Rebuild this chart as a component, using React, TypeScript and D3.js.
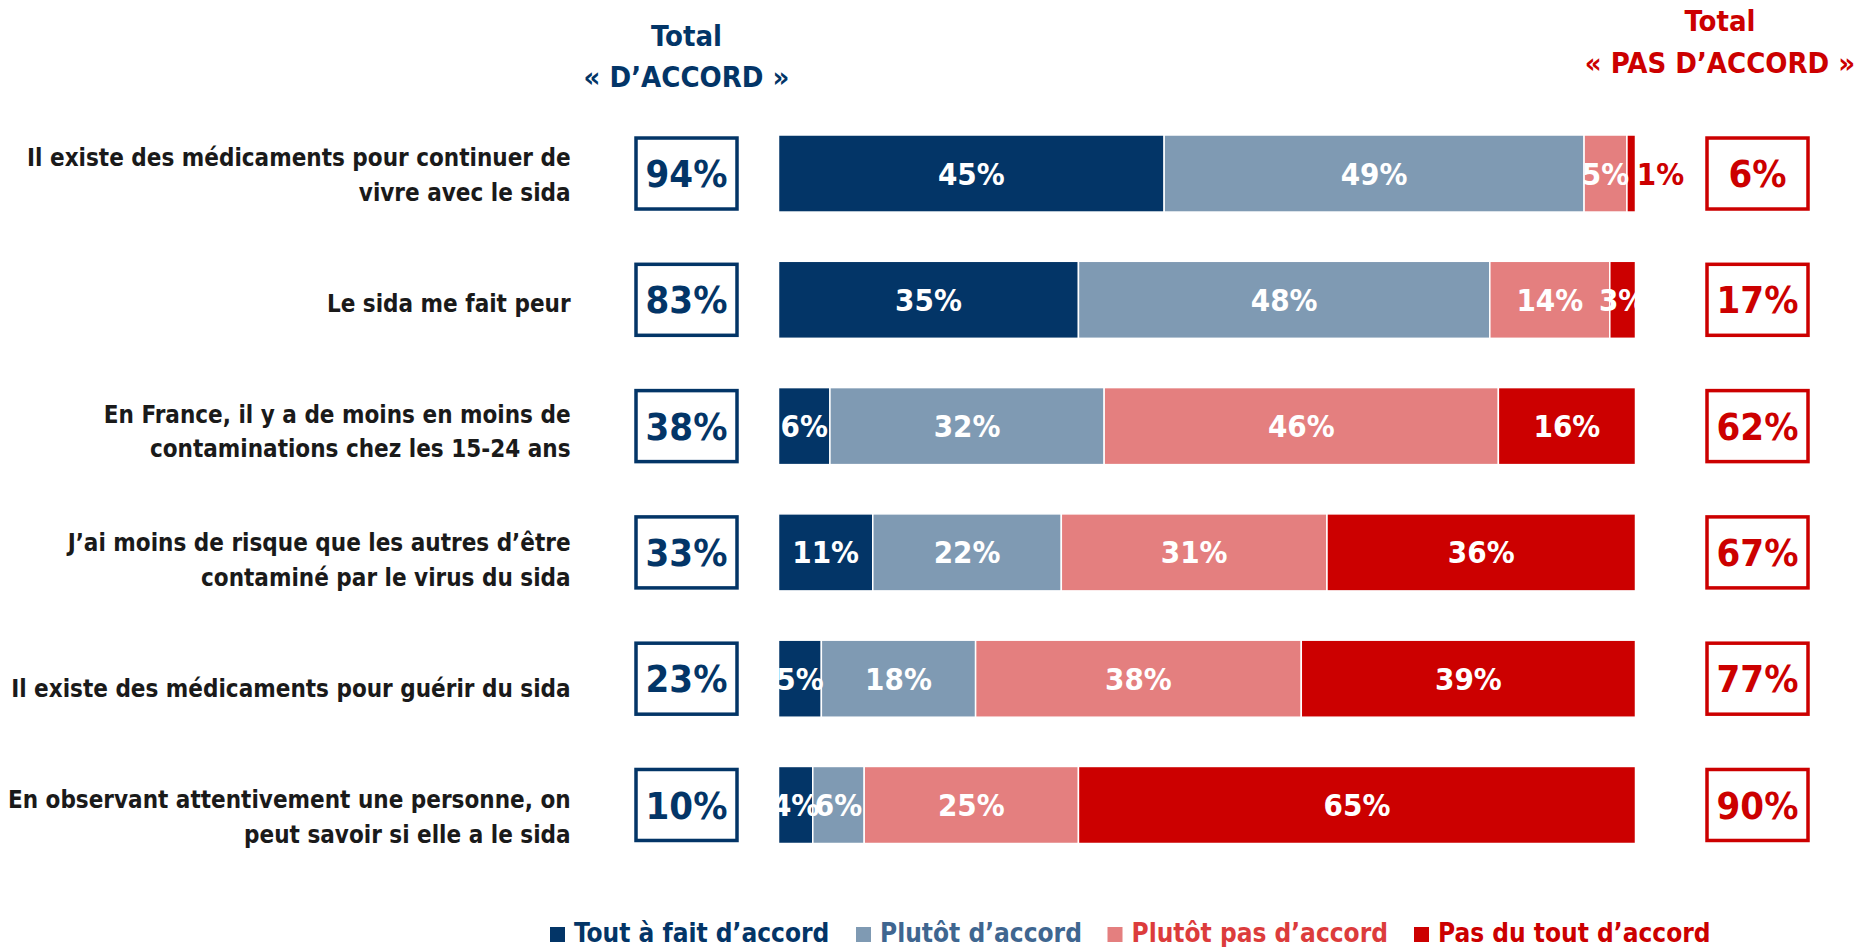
import React from 'react';
import * as d3 from 'd3';

const categories: string[][] = [
  ['Il existe des médicaments pour continuer de', 'vivre avec le sida'],
  ['Le sida me fait peur'],
  ['En France, il y a de moins en moins de', 'contaminations chez les 15-24 ans'],
  ['J’ai moins de risque que les autres d’être', 'contaminé par le virus du sida'],
  ['Il existe des médicaments pour guérir du sida'],
  ['En observant attentivement une personne, on', 'peut savoir si elle a le sida'],
];
const seriesNames = ['Tout à fait d’accord', 'Plutôt d’accord', 'Plutôt pas d’accord', 'Pas du tout d’accord'];
const toutAFait = [45, 35, 6, 11, 5, 4];
const plutot = [49, 48, 32, 22, 18, 6];
const plutotPas = [5, 14, 46, 31, 38, 25];
const pasDuTout = [1, 3, 16, 36, 39, 65];
const totalAccord = [94, 83, 38, 33, 23, 10];
const totalPasAccord = [6, 17, 62, 67, 77, 90];

const FONT = '"Liberation Sans Narrow", "DejaVu Sans Condensed", "Open Sans", sans-serif';
const NAVY = '#033567';
const STEEL = '#7F9AB3';
const PINK = '#E47F7F';
const RED = '#CC0000';
const fills = [NAVY, STEEL, PINK, RED];
const legendText = [NAVY, '#3F6690', '#DC3C3C', RED];

const W = 1858;
const H = 947;

export default function App() {
  const series = [toutAFait, plutot, plutotPas, pasDuTout];
  const rows = categories.map((_, i) => {
    let acc = 0;
    return series.map((s, k) => {
      const seg = { k, x0: acc, x1: acc + s[i], v: s[i] };
      acc += s[i];
      return seg;
    });
  });

  const x = d3.scaleLinear().domain([0, 100]).range([778.5, 1635.5]);
  const y = d3.scaleBand<number>().domain(d3.range(6)).range([135, 843.5]).paddingInner(0.39).paddingOuter(0);
  const yl = d3.scalePoint<number>().domain(d3.range(6)).range([174.7, 816.7]);

  const catSize = 24;
  const barSize = 31;
  const boxSize = 38;
  const headSize = 29;
  const legSize = 26;
  const cap = 0.716;

  const boxW = 101;
  const boxH = 71;
  const leftBoxX = 636;
  const rightBoxX = 1707;

  const legendX = [550, 856, 1107.5, 1414];

  return (
    <svg width={W} height={H} style={{ position: 'absolute', left: 0, top: 0, background: '#fff' }} fontFamily={FONT} fontWeight="bold">
      <defs>
        <clipPath id="plot">
          <rect x={x(0)} y={0} width={x(100) - x(0)} height={H} />
        </clipPath>
      </defs>

      {/* headers */}
      <g fill={NAVY} fontSize={headSize} textAnchor="middle">
        <text x={leftBoxX + boxW / 2} y={45.7}>Total</text>
        <text x={leftBoxX + boxW / 2} y={87.3}>« D’ACCORD »</text>
      </g>
      <g fill={RED} fontSize={headSize} textAnchor="middle">
        <text x={1720} y={30.7}>Total</text>
        <text x={1720} y={72.7}>« PAS D’ACCORD »</text>
      </g>

      {/* category labels */}
      <g fill="#1a1a1a" fontSize={catSize} textAnchor="end">
        {categories.map((lines, i) => {
          const c = yl(i)!;
          const offs = lines.length === 1 ? [0] : [-17.4, 17.4];
          return lines.map((ln, j) => (
            <text key={i + '-' + j} x={570.6} y={c + offs[j] + (cap * catSize) / 2}>{ln}</text>
          ));
        })}
      </g>

      {/* bars */}
      {rows.map((segs, i) => (
        <g key={'bar' + i}>
          {segs.map((s) => (
            <rect key={s.k} x={x(s.x0)} y={y(i)!} width={x(s.x1) - x(s.x0)} height={y.bandwidth()}
              fill={fills[s.k]} stroke="#fff" strokeWidth={1.5} />
          ))}
        </g>
      ))}

      {/* bar labels */}
      <g fontSize={barSize} textAnchor="middle">
        {rows.map((segs, i) => segs.map((s) => {
          const cy = y(i)! + y.bandwidth() / 2 + (cap * barSize) / 2;
          if (s.v <= 1) {
            return <text key={i + '-' + s.k} x={x(100) + 25} y={cy} fill={RED}>{s.v + '%'}</text>;
          }
          return <text key={i + '-' + s.k} x={(x(s.x0) + x(s.x1)) / 2} y={cy} fill="#fff" clipPath="url(#plot)">{s.v + '%'}</text>;
        }))}
      </g>

      {/* total boxes */}
      {totalAccord.map((v, i) => {
        const cy = y(i)! + y.bandwidth() / 2;
        return (
          <g key={'lb' + i}>
            <rect x={leftBoxX} y={cy - boxH / 2} width={boxW} height={boxH} fill="#fff" stroke={NAVY} strokeWidth={3.5} />
            <text x={leftBoxX + boxW / 2} y={cy + (cap * boxSize) / 2} fontSize={boxSize} fill={NAVY} textAnchor="middle">{v + '%'}</text>
          </g>
        );
      })}
      {totalPasAccord.map((v, i) => {
        const cy = y(i)! + y.bandwidth() / 2;
        return (
          <g key={'rb' + i}>
            <rect x={rightBoxX} y={cy - boxH / 2} width={boxW} height={boxH} fill="#fff" stroke={RED} strokeWidth={3.5} />
            <text x={rightBoxX + boxW / 2} y={cy + (cap * boxSize) / 2} fontSize={boxSize} fill={RED} textAnchor="middle">{v + '%'}</text>
          </g>
        );
      })}

      {/* legend */}
      <g fontSize={legSize}>
        {seriesNames.map((n, k) => (
          <g key={n}>
            <rect x={legendX[k]} y={927} width={15} height={15} fill={fills[k]} />
            <text x={legendX[k] + 24} y={941.7} fill={legendText[k]}>{n}</text>
          </g>
        ))}
      </g>
    </svg>
  );
}
